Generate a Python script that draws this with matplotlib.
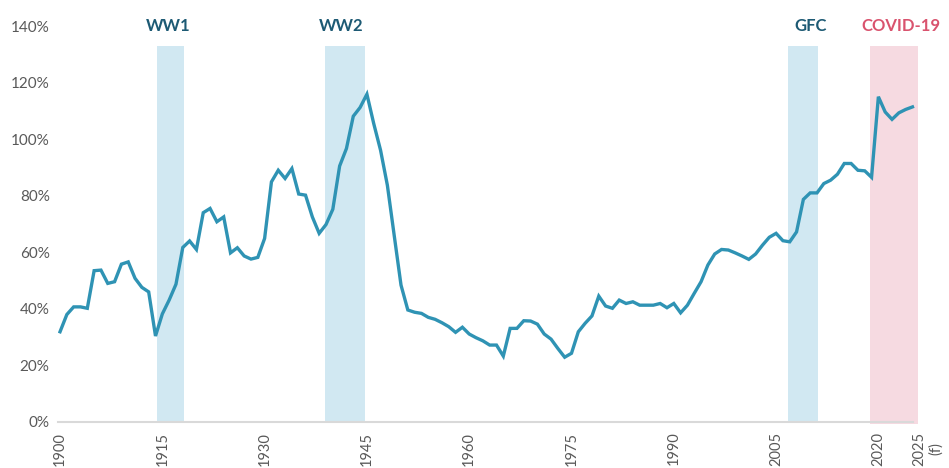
import matplotlib.pyplot as plt
from matplotlib.ticker import FuncFormatter

years = list(range(1900, 2026))
debt = [
    31.9, 38.0, 40.7, 40.7, 40.2, 53.5, 53.7, 49.0, 49.6, 55.8,   # 1900s
    56.6, 50.8, 47.6, 46.0, 30.4, 38.2, 43.1, 48.7, 61.7, 64.0,   # 1910s
    61.0, 74.0, 75.5, 70.8, 72.5, 59.8, 61.6, 58.7, 57.6, 58.2,   # 1920s
    64.9, 84.9, 89.0, 86.1, 89.6, 80.6, 80.2, 72.5, 66.7, 69.8,   # 1930s
    75.2, 90.5, 96.7, 108.1, 111.2, 115.9, 105.5, 96.1, 83.7, 66.0,  # 1940s
    48.4, 39.6, 38.8, 38.4, 37.0, 36.3, 35.1, 33.7, 31.7, 33.5,   # 1950s
    31.1, 29.8, 28.7, 27.2, 27.2, 23.3, 33.1, 33.1, 35.8, 35.7,   # 1960s
    34.6, 31.1, 29.3, 26.0, 22.9, 24.3, 31.9, 34.9, 37.5, 44.5,   # 1970s
    41.0, 40.2, 43.1, 41.9, 42.5, 41.3, 41.3, 41.3, 41.9, 40.4,   # 1980s
    41.9, 38.6, 41.3, 45.5, 49.6, 55.5, 59.4, 61.0, 60.8, 59.8,   # 1990s
    58.7, 57.5, 59.4, 62.5, 65.3, 66.7, 64.1, 63.7, 67.2, 78.7,   # 2000s
    81.0, 81.0, 84.3, 85.5, 87.6, 91.4, 91.4, 89.0, 88.8, 86.5,   # 2010s
    115.0, 109.6, 107.0, 109.3, 110.5, 111.4,                     # 2020s
]

period_names = ["WW1", "WW2", "GFC", "COVID-19"]
period_starts = [1914.2, 1938.9, 2006.7, 2018.8]
period_ends = [1918.2, 1944.7, 2011.1, 2025.8]
period_label_x = [1915.8, 1941.2, 2010.0, 2023.3]

x_ticks = [1900, 1915, 1930, 1945, 1960, 1975, 1990, 2005, 2020, 2025]
x_tick_labels = ["1900", "1915", "1930", "1945", "1960", "1975", "1990",
                 "2005", "2020", "2025\n(f)"]
y_ticks = [0, 20, 40, 60, 80, 100, 120, 140]

line_color = "#2f93b4"
band_colors = ["#d1e8f2", "#d1e8f2", "#d1e8f2", "#f6dae1"]
label_colors = ["#1d5a74", "#1d5a74", "#1d5a74", "#d9536e"]

plt.rcParams["font.family"] = ["Lato", "DejaVu Sans"]

fig = plt.figure(figsize=(9.49, 4.68), dpi=100)
ax = fig.add_axes([0.0611, 0.0983, 0.9076, 0.8461])

for name, s, e, bc, lc, lx in zip(period_names, period_starts, period_ends,
                                  band_colors, label_colors, period_label_x):
    ymin = -0.006 if name == "COVID-19" else 0
    ax.axvspan(s, e, ymin=ymin, ymax=133 / 140, color=bc, lw=0,
               zorder=1, clip_on=False)
    ax.text(lx, 140, name, color=lc, fontsize=12, fontweight="bold",
            ha="center", va="center")

ax.plot(years, debt, color=line_color, lw=2.4, zorder=3,
        solid_joinstyle="miter")

ax.set_xlim(1899.7, 2026)
ax.set_ylim(0, 140)

for side in ["top", "right", "left"]:
    ax.spines[side].set_visible(False)
ax.spines["bottom"].set_color("#d9d9d9")
ax.spines["bottom"].set_linewidth(1.5)
ax.spines["bottom"].set_bounds(1899.7, 2025.1)
ax.spines["bottom"].set_zorder(2)

ax.set_yticks(y_ticks)
ax.yaxis.set_major_formatter(FuncFormatter(lambda v, p: f"{v:.0f}%"))
ax.set_xticks(x_ticks)
ax.set_xticklabels(x_tick_labels, rotation=90, va="top", ha="center",
                   multialignment="center")
ax.get_xticklabels()[-1].set_horizontalalignment("left")
ax.tick_params(axis="y", length=0, colors="#595959", labelsize=11, pad=6)
ax.tick_params(axis="x", length=0, colors="#595959", labelsize=10.5, pad=7)

fig.savefig("out.png", dpi=100)
